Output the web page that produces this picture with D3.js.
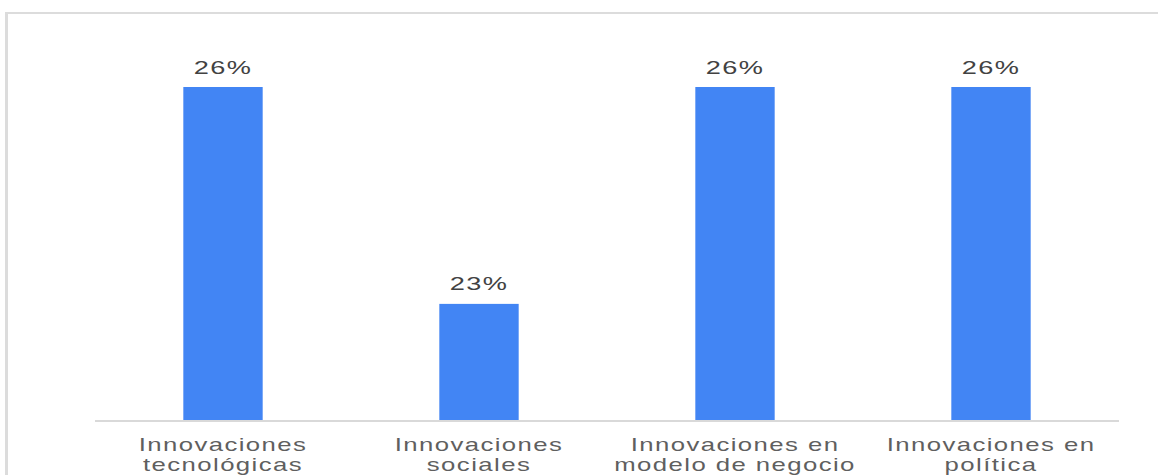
<!DOCTYPE html>
<html>
<head>
<meta charset="utf-8">
<script src="https://cdn.jsdelivr.net/npm/d3@7"></script>
<style>
  html, body { margin: 0; padding: 0; background: #fff; }
  svg { display: block; }
</style>
</head>
<body>
<svg id="chart" width="1158" height="475"></svg>
<script>
// Share of innovation types
const categories = [
  ["Innovaciones", "tecnológicas"],
  ["Innovaciones", "sociales"],
  ["Innovaciones en", "modelo de negocio"],
  ["Innovaciones en", "política"]
];
const values = [26, 23, 26, 26];
const valueLabels = ["26%", "23%", "26%", "26%"];
const axisMin = 21.38;

const svg = d3.select("#chart");
const W = 1158, H = 475;
const plot = { left: 95, right: 1119, top: 87, bottom: 421 };
const stretch = 1.43;

// Frame around the chart area
svg.append("line").attr("x1", 6.5).attr("x2", 6.5).attr("y1", 12).attr("y2", H)
  .attr("stroke", "#dcdcdc").attr("stroke-width", 3);
svg.append("line").attr("x1", 5).attr("x2", W).attr("y1", 13).attr("y2", 13)
  .attr("stroke", "#dcdcdc").attr("stroke-width", 2);

const x = d3.scaleBand()
  .domain(d3.range(values.length))
  .range([plot.left, plot.right])
  .paddingInner(0.69)
  .paddingOuter(0.345);

const y = d3.scaleLinear()
  .domain([axisMin, d3.max(values)])
  .range([plot.bottom, plot.top]);

// Bars
svg.append("g").selectAll("rect")
  .data(values)
  .join("rect")
  .attr("x", (d, i) => x(i))
  .attr("width", x.bandwidth())
  .attr("y", d => y(d))
  .attr("height", d => y.range()[0] - y(d))
  .attr("fill", "#4285f4");

// Baseline
svg.append("line")
  .attr("x1", plot.left).attr("x2", plot.right)
  .attr("y1", plot.bottom).attr("y2", plot.bottom)
  .attr("stroke", "#d9d9d9").attr("stroke-width", 2);

// Value labels above bars
svg.append("g").selectAll("text")
  .data(values)
  .join("text")
  .attr("transform", (d, i) => `translate(${x(i) + x.bandwidth() / 2},${y(d) - 13.5}) scale(${stretch},1)`)
  .attr("text-anchor", "middle")
  .attr("font-family", "Liberation Sans, Arial, sans-serif")
  .attr("font-size", 19)
  .attr("letter-spacing", 1)
  .attr("fill", "#424242")
  .text((d, i) => valueLabels[i]);

// Category labels
const cat = svg.append("g").selectAll("text")
  .data(categories)
  .join("text")
  .attr("transform", (d, i) => `translate(${x(i) + x.bandwidth() / 2},451) scale(${stretch},1)`)
  .attr("text-anchor", "middle")
  .attr("font-family", "Liberation Sans, Arial, sans-serif")
  .attr("font-size", 18)
  .attr("letter-spacing", 1)
  .attr("fill", "#5f5f5f");
cat.selectAll("tspan")
  .data(d => d)
  .join("tspan")
  .attr("x", 0)
  .attr("dy", (d, j) => j === 0 ? 0 : 20)
  .text(d => d);
</script>
</body>
</html>
